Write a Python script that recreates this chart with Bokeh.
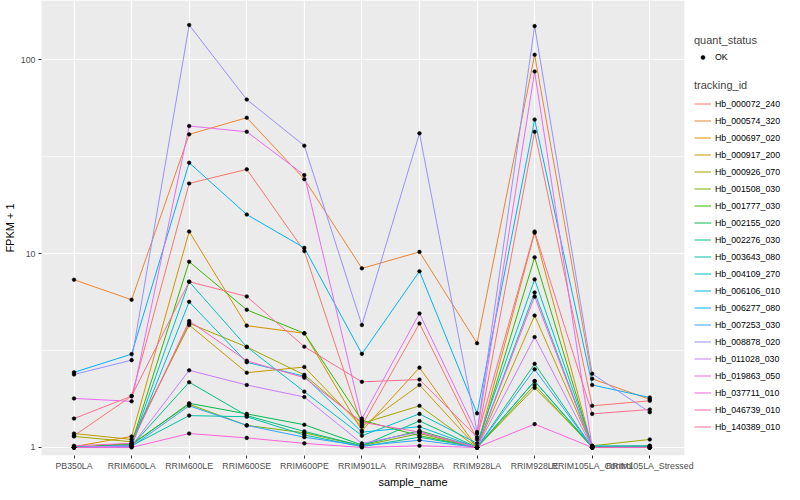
from bokeh.plotting import figure
from bokeh.models import (Range1d, FixedTicker, Legend, LegendItem,
                          ColumnDataSource, BoxAnnotation)
from bokeh.embed import file_html
from bokeh.resources import INLINE

# ---------------- data ----------------
samples = ["PB350LA", "RRIM600LA", "RRIM600LE", "RRIM600SE", "RRIM600PE",
           "RRIM901LA", "RRIM928BA", "RRIM928LA", "RRIM928LE",
           "RRIM105LA_Control", "RRIM105LA_Stressed"]

tracking_ids = ["Hb_000072_240", "Hb_000574_320", "Hb_000697_020", "Hb_000917_200",
                "Hb_000926_070", "Hb_001508_030", "Hb_001777_030", "Hb_002155_020",
                "Hb_002276_030", "Hb_003643_080", "Hb_004109_270", "Hb_006106_010",
                "Hb_006277_080", "Hb_007253_030", "Hb_008878_020", "Hb_011028_030",
                "Hb_019863_050", "Hb_037711_010", "Hb_046739_010", "Hb_140389_010"]

colors = ["#F8766D", "#EA8331", "#D89000", "#C09B00", "#A3A500", "#7CAE00",
          "#39B600", "#00BB4E", "#00BF7D", "#00C1A3", "#00BFC4", "#00BAE0",
          "#00B0F6", "#35A2FF", "#9590FF", "#C77CFF", "#E76BF3", "#FA62DB",
          "#FF62BC", "#FF6C91"]

# FPKM + 1 per sample (same order as samples)
hb_000072_240 = [1.15, 1.84, 23.0, 27.2, 10.3, 1.30, 4.36, 1.10, 42.5, 1.64, 1.74]
hb_000574_320 = [7.33, 5.78, 41.2, 50.2, 24.2, 8.39, 10.2, 3.45, 106.0, 2.26, 1.77]
hb_000697_020 = [1.01, 1.14, 13.0, 4.25, 3.88, 1.22, 2.58, 1.00, 12.8, 1.00, 1.01]
hb_000917_200 = [1.18, 1.10, 4.28, 2.43, 2.60, 1.28, 2.10, 1.00, 4.79, 1.01, 1.02]
hb_000926_070 = [1.14, 1.07, 4.37, 3.30, 2.37, 1.33, 1.64, 1.00, 2.03, 1.02, 1.10]
hb_001508_030 = [1.00, 1.04, 1.67, 1.30, 1.19, 1.02, 1.18, 1.00, 2.10, 1.00, 1.00]
hb_001777_030 = [1.00, 1.05, 9.08, 5.13, 3.88, 1.38, 1.15, 1.00, 9.56, 1.00, 1.00]
hb_002155_020 = [1.00, 1.03, 1.69, 1.49, 1.31, 1.03, 1.22, 1.00, 2.20, 1.00, 1.00]
hb_002276_030 = [1.00, 1.02, 2.17, 1.46, 1.21, 1.02, 1.37, 1.00, 2.70, 1.00, 1.00]
hb_003643_080 = [1.00, 1.02, 1.46, 1.44, 1.16, 1.01, 1.13, 1.00, 2.20, 1.01, 1.01]
hb_004109_270 = [1.00, 1.03, 7.16, 3.30, 1.94, 1.15, 1.49, 1.05, 7.36, 1.02, 1.02]
hb_006106_010 = [1.00, 1.02, 5.64, 2.75, 2.33, 1.20, 1.28, 1.00, 6.30, 1.00, 1.00]
hb_006277_080 = [2.44, 3.03, 29.4, 15.9, 10.7, 3.04, 8.10, 1.50, 49.1, 2.10, 1.81]
hb_007253_030 = [1.00, 1.01, 1.64, 1.30, 1.13, 1.02, 1.09, 1.00, 2.53, 1.00, 1.00]
hb_008878_020 = [2.38, 2.82, 151.0, 62.3, 36.0, 4.28, 41.7, 1.20, 149.0, 2.40, 1.52]
hb_011028_030 = [1.00, 1.02, 2.50, 2.10, 1.82, 1.05, 1.20, 1.00, 3.71, 1.00, 1.00]
hb_019863_050 = [1.79, 1.73, 45.5, 42.5, 25.4, 1.41, 4.91, 1.18, 86.9, 1.00, 1.00]
hb_037711_010 = [1.00, 1.00, 1.18, 1.12, 1.05, 1.00, 1.02, 1.00, 1.32, 1.00, 1.00]
hb_046739_010 = [1.02, 1.05, 4.49, 2.80, 2.29, 1.35, 1.20, 1.00, 6.00, 1.00, 1.00]
hb_140389_010 = [1.41, 1.84, 7.16, 6.01, 3.31, 2.18, 2.24, 1.13, 13.0, 1.49, 1.57]

series = [hb_000072_240, hb_000574_320, hb_000697_020, hb_000917_200, hb_000926_070,
          hb_001508_030, hb_001777_030, hb_002155_020, hb_002276_030, hb_003643_080,
          hb_004109_270, hb_006106_010, hb_006277_080, hb_007253_030, hb_008878_020,
          hb_011028_030, hb_019863_050, hb_037711_010, hb_046739_010, hb_140389_010]

y_ticks = [1, 10, 100]
y_tick_labels = ["1", "10", "100"]

FONT = "Liberation Sans"

# sample positions on the discrete axis (1..n, as in ggplot)
xpos = [i + 1 for i in range(len(samples))]
x_lo, x_hi = 0.4, len(samples) + 0.6     # ggplot discrete expansion

# ---------------- figure ----------------
p = figure(width=784, height=490,
           x_range=Range1d(0.435, 13.34),
           y_axis_type="log", y_range=Range1d(0.909, 202.0),
           output_backend="svg", toolbar_location=None,
           min_border_left=0, min_border_right=0, min_border_top=0,
           min_border_bottom=0)

p.background_fill_color = "white"
p.border_fill_color = "white"
p.outline_line_color = None

# grey panel (only over the data area; legend area stays white)
panel = BoxAnnotation(left=x_lo, right=x_hi, fill_color="#EBEBEB",
                      fill_alpha=1.0, line_color=None, level="image")
p.add_layout(panel)

# grid
p.xgrid.grid_line_color = "white"
p.xgrid.grid_line_width = 1.2
p.ygrid.grid_line_color = "white"
p.ygrid.grid_line_width = 1.2
p.ygrid.minor_grid_line_color = "white"
p.ygrid.minor_grid_line_width = 0.6

p.xaxis.ticker = FixedTicker(ticks=xpos)
p.xaxis.major_label_overrides = dict(zip(xpos, samples))
p.yaxis.ticker = FixedTicker(ticks=y_ticks,
                             minor_ticks=[10 ** -0.5, 10 ** 0.5, 10 ** 1.5, 10 ** 2.5])
p.yaxis.major_label_overrides = dict(zip(y_ticks, y_tick_labels))

for ax in (p.xaxis[0], p.yaxis[0]):
    ax.axis_line_color = None
    ax.major_tick_line_color = "#333333"
    ax.major_tick_out = 3
    ax.major_tick_in = 0
    ax.minor_tick_line_color = None
    ax.major_label_text_color = "#4D4D4D"
    ax.major_label_text_font = FONT
    ax.major_label_text_font_size = "8.8px"
    ax.major_label_text_line_height = 1.0
    ax.major_label_standoff = 2
    ax.axis_label_text_font = FONT
    ax.axis_label_text_font_size = "11px"
    ax.axis_label_text_font_style = "normal"
    ax.axis_label_text_line_height = 1.0
    ax.axis_label_text_color = "black"
    ax.axis_label_standoff = 2

p.xaxis.axis_label = "sample_name"
p.yaxis.axis_label = "FPKM + 1"

# lines
line_renderers = []
for tid, col, vals in zip(tracking_ids, colors, series):
    r = p.line(x=xpos, y=vals, line_color=col, line_width=1.0)
    line_renderers.append(r)

# points
pt_x, pt_y = [], []
for vals in series:
    pt_x.extend(xpos)
    pt_y.extend(vals)
pts_src = ColumnDataSource(data=dict(x=pt_x, y=pt_y))
pts = p.scatter(x="x", y="y", source=pts_src, size=3.6, fill_color="black",
                line_color="black", line_width=0.6, marker="circle")

# legends
def style_legend(leg, standoff, gh=17):
    leg.title_text_font = FONT
    leg.title_text_font_size = "11px"
    leg.title_text_font_style = "normal"
    leg.title_standoff = standoff
    leg.label_text_font = FONT
    leg.label_text_font_size = "8.8px"
    leg.label_text_color = "black"
    leg.glyph_width = 17
    leg.glyph_height = gh
    leg.label_height = 17
    leg.label_standoff = 4
    leg.spacing = 0
    leg.padding = 0
    leg.margin = 0
    leg.border_line_color = None
    leg.background_fill_alpha = 0

leg_q = Legend(items=[LegendItem(label="OK", renderers=[pts])],
               title="quant_status", location=(653, 390))
style_legend(leg_q, 2, gh=10)
p.add_layout(leg_q)

leg_t = Legend(items=[LegendItem(label=t, renderers=[r])
                      for t, r in zip(tracking_ids, line_renderers)],
               title="tracking_id", location=(653, 20))
style_legend(leg_t, 4)
p.add_layout(leg_t)

open("out.html", "w").write(file_html(p, INLINE))
